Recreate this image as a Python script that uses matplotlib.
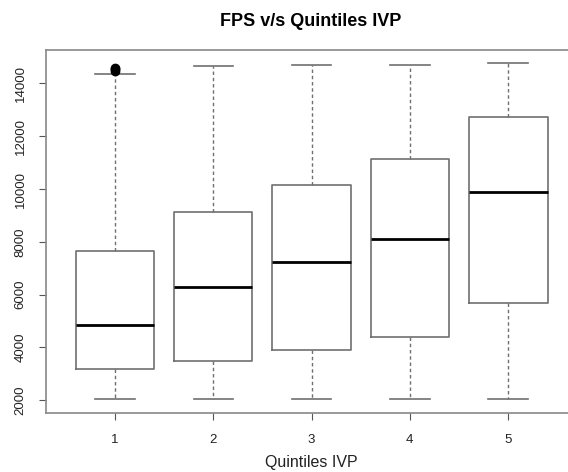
import matplotlib
matplotlib.use("Agg")
import matplotlib.pyplot as plt

plt.rcParams['font.family'] = ['Liberation Sans', 'DejaVu Sans']

quintiles = ["1", "2", "3", "4", "5"]
whisker_low = [2040, 2040, 2040, 2040, 2040]
q1 = [3200, 3490, 3910, 4380, 5680]
median = [4840, 6290, 7230, 8090, 9890]
q3 = [7660, 9140, 10150, 11120, 12730]
whisker_high = [14350, 14650, 14690, 14690, 14760]
outliers = [[14470, 14530, 14580], [], [], [], []]

yticks = [2000, 4000, 6000, 8000, 10000, 12000, 14000]

stats = []
for i, lab in enumerate(quintiles):
    stats.append(dict(label=lab, whislo=whisker_low[i], q1=q1[i], med=median[i],
                      q3=q3[i], whishi=whisker_high[i], fliers=outliers[i]))

fig = plt.figure(figsize=(5.68, 4.72), dpi=100)
ax = fig.add_axes([46 / 568, 1 - 412.7 / 472, 531 / 568, 362.7 / 472])

line_col = "#707070"
ax.bxp(stats, positions=range(1, 6), widths=0.8, capwidths=0.4,
       boxprops=dict(color=line_col, lw=1.2),
       medianprops=dict(color="black", lw=2),
       whiskerprops=dict(color=line_col, lw=1, linestyle=(0, (2.5, 2))),
       capprops=dict(color=line_col, lw=1.2),
       flierprops=dict(marker="o", markerfacecolor="black", markeredgecolor="black",
                       markersize=6))

ax.set_xlim(0.3, 5.7)
ax.set_ylim(1529, 15266)
ax.set_yticks(yticks)
ax.set_yticklabels([str(v) for v in yticks], rotation=90, va="center")
for s in ax.spines.values():
    s.set_color("#888888")
    s.set_linewidth(1.2)
ax.tick_params(axis="both", length=5, color="#555555", labelsize=9.5, labelcolor="#222222")
ax.tick_params(axis="y", pad=9)
ax.tick_params(axis="x", pad=10)

# title and x label placed like R's default margins
fig.text(311 / 568, 1 - 21 / 472, "FPS v/s Quintiles IVP", fontsize=13, fontweight="bold",
         ha="center", va="center")
fig.text(311 / 568, 1 - 463 / 472, "Quintiles IVP", fontsize=11.5, color="#222222",
         ha="center", va="center")

fig.savefig("out.png", dpi=100)
